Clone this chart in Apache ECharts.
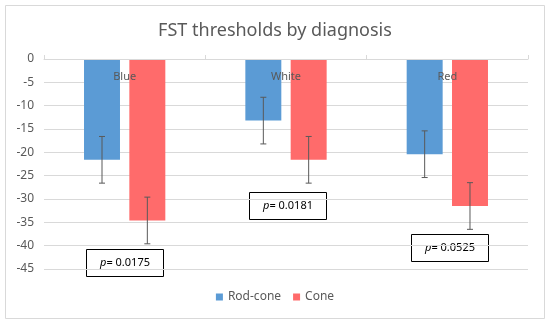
<!DOCTYPE html>
<html>
<head>
<meta charset="utf-8">
<script src="https://cdn.jsdelivr.net/npm/echarts@6/dist/echarts.min.js"></script>
<style>html,body{margin:0;padding:0;background:#fff}#c{width:550px;height:324px}</style>
</head>
<body>
<div id="c"></div>
<script>
var categories = ['Blue', 'White', 'Red'];
var seriesNames = ['Rod-cone', 'Cone'];
var rodCone = [-21.6, -13.2, -20.4];
var cone = [-34.6, -21.6, -31.5];
var rodConeErr = [5, 5, 5];
var coneErr = [5, 5, 5];
var yTicks = [0, -5, -10, -15, -20, -25, -30, -35, -40, -45];
var pLabels = ['0.0175', '0.0181', '0.0525'];

var BAR_PCT = 0.223, GAP_RATIO = 0.26;
var colors = ['#5B9BD5', '#FF6B6B'];
var chart = echarts.init(document.getElementById('c'));

function errSeries(idx, vals, errs) {
  return {
    type: 'custom',
    name: seriesNames[idx] + ' err',
    z: 5,
    silent: true,
    data: vals.map(function (v, i) { return [i, v, errs[i]]; }),
    renderItem: function (params, api) {
      var ci = api.value(0), v = api.value(1), e = api.value(2);
      var band = api.size([1, 0])[0];
      var bw = band * BAR_PCT, gap = bw * GAP_RATIO;
      var total = 2 * bw + gap;
      var off = -total / 2 + bw / 2 + idx * (bw + gap);
      var top = api.coord([ci, v + e]);
      var bot = api.coord([ci, v - e]);
      var x = top[0] + off, cap = 3;
      var st = { stroke: '#595959', lineWidth: 1 };
      return { type: 'group', children: [
        { type: 'line', shape: { x1: x, y1: top[1], x2: x, y2: bot[1] }, style: st },
        { type: 'line', shape: { x1: x - cap, y1: top[1], x2: x + cap, y2: top[1] }, style: st },
        { type: 'line', shape: { x1: x - cap, y1: bot[1], x2: x + cap, y2: bot[1] }, style: st }
      ]};
    }
  };
}

var boxPos = [[86, 249], [249, 192], [411, 234]];
var graphics = [{
  type: 'rect', left: 5, top: 5, z: -10,
  shape: { width: 539, height: 313 },
  style: { fill: '#fff', stroke: '#d9d9d9', lineWidth: 1 }
}];
pLabels.forEach(function (p, i) {
  graphics.push({
    type: 'group', left: boxPos[i][0], top: boxPos[i][1], z: 20,
    children: [
      { type: 'rect', shape: { x: 0, y: 0, width: 77, height: 27 },
        style: { fill: '#fff', stroke: '#000', lineWidth: 1 } },
      { type: 'text', x: 38.5, y: 13.5,
        style: { text: '{i|p}{n|= ' + p + '}', align: 'center', verticalAlign: 'middle',
          rich: { i: { fontStyle: 'italic', fontSize: 11, fontFamily: 'Noto Sans', fill: '#000' },
                  n: { fontSize: 11, fontFamily: 'Noto Sans', fill: '#000' } } } }
    ]
  });
});

chart.setOption({
  animation: false,
  title: {
    text: 'FST thresholds by diagnosis', left: 'center', top: 17,
    textStyle: { fontFamily: 'Noto Sans', fontSize: 18, fontWeight: 'normal', color: '#595959' }
  },
  legend: {
    data: seriesNames, bottom: 16, left: 'center',
    icon: 'rect', itemWidth: 7, itemHeight: 7, itemGap: 12,
    textStyle: { fontFamily: 'Noto Sans', fontSize: 12, color: '#595959' }
  },
  grid: { left: 44, right: 22, top: 59, bottom: 55, containLabel: false },
  xAxis: {
    type: 'category', data: categories, position: 'top', z: 10,
    axisLine: { show: true, lineStyle: { color: '#d9d9d9' } },
    axisTick: { show: true, length: 4, lineStyle: { color: '#d9d9d9' } },
    axisLabel: { inside: true, margin: 12, fontFamily: 'Noto Sans', fontSize: 11, color: '#595959' }
  },
  yAxis: {
    type: 'value', min: -45, max: 0, interval: 5,
    axisLine: { show: false }, axisTick: { show: false },
    splitLine: { lineStyle: { color: '#d9d9d9' } },
    axisLabel: { margin: 10, fontFamily: 'Noto Sans', fontSize: 12, color: '#595959',
      formatter: function (v) { return yTicks.indexOf(v) >= 0 ? String(v) : ''; } }
  },
  series: [
    { type: 'bar', name: seriesNames[0], data: rodCone, barWidth: (BAR_PCT * 100) + '%',
      barGap: (GAP_RATIO * 100) + '%', itemStyle: { color: colors[0] }, z: 2 },
    { type: 'bar', name: seriesNames[1], data: cone, barWidth: (BAR_PCT * 100) + '%',
      barGap: (GAP_RATIO * 100) + '%', itemStyle: { color: colors[1] }, z: 2 },
    errSeries(0, rodCone, rodConeErr),
    errSeries(1, cone, coneErr)
  ],
  graphic: graphics
});
</script>
</body>
</html>
